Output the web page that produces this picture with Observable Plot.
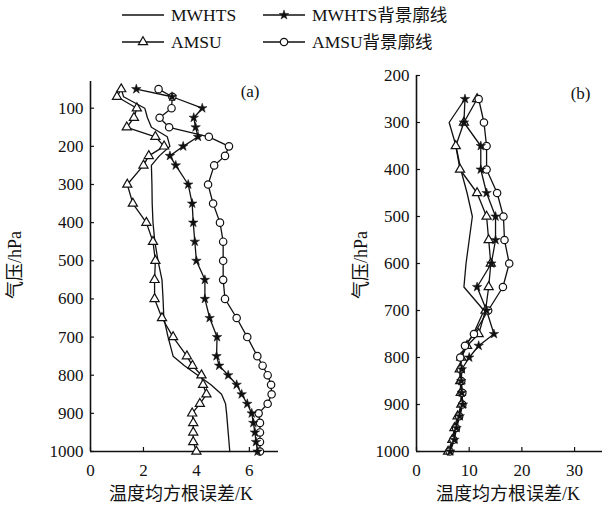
<!DOCTYPE html>
<html><head><meta charset="utf-8">
<script src="https://cdn.jsdelivr.net/npm/d3@7"></script>
<script src="https://cdn.jsdelivr.net/npm/@observablehq/plot@0.6"></script>
<style>
body{margin:0;background:#fff;}
#chart{position:relative;width:602px;height:506px;overflow:hidden;background:#fff;font-family:"Liberation Serif","Noto Sans CJK SC",serif;}
#chart svg{position:absolute;}
#chart svg text{font-family:"Liberation Serif","Noto Sans CJK SC",serif !important;}
</style></head><body><div id="chart"></div>
<script>
// ---- data ----
const seriesNames = ["MWHTS", "MWHTS背景廓线", "AMSU", "AMSU背景廓线"];
const levelsA = [50,70,100,125,150,175,200,225,250,300,350,400,450,500,550,600,650,700,750,775,800,825,850,875,900,925,950,975,1000];
const mwhtsA   = [1.16,1.25,2.05,2.15,2.3,2.9,3.0,2.6,2.3,2.32,2.33,2.36,2.43,2.55,2.7,2.74,2.77,2.93,3.12,3.55,4.05,4.55,4.95,5.1,5.14,5.17,5.2,5.23,5.26];
const mwhtsBgA = [1.73,3.08,4.22,3.9,3.97,4.06,3.5,3.0,3.22,3.69,3.84,3.88,3.94,4.0,4.32,4.32,4.5,4.78,4.76,4.86,5.2,5.52,5.71,5.92,6.09,6.15,6.21,6.25,6.31];
const amsuA    = [1.16,1.0,1.75,1.64,1.37,2.45,2.78,2.2,2.0,1.39,1.6,2.11,2.36,2.45,2.42,2.42,2.7,3.12,3.64,3.85,4.19,4.25,4.38,4.13,3.84,3.88,3.88,3.88,4.0];
const amsuBgA  = [2.57,3.09,3.06,2.61,2.97,4.47,5.23,5.08,4.67,4.44,4.63,4.89,5.01,5.01,5.01,5.08,5.52,5.92,6.3,6.5,6.69,6.82,6.84,6.69,6.35,6.4,6.4,6.4,6.4];

const levelsB = [250,300,350,400,450,500,550,600,650,700,750,775,800,825,850,875,900,925,950,975,1000];
const mwhtsB   = [9.2,6.2,7.5,8.4,9.6,10.6,10.0,9.4,9.0,12.8,10.8,9.3,8.6,8.3,8.4,8.5,8.6,8.0,7.4,7.0,6.2];
const mwhtsBgB = [9.2,9.0,12.2,12.2,13.3,15.0,15.0,14.2,11.5,13.3,14.7,11.8,10.0,8.6,8.5,8.6,8.8,8.2,7.6,7.2,6.4];
const amsuB    = [11.5,9.0,7.45,8.26,11.5,13.3,13.7,14.1,13.7,13.1,11.8,9.6,8.5,8.2,8.3,8.4,8.5,7.8,7.2,6.8,6.0];
const amsuBgB  = [11.8,12.8,13.3,13.3,15.3,16.5,16.7,17.6,16.4,13.6,10.9,9.2,8.3,8.4,8.5,8.7,8.7,8.1,7.5,7.0,6.3];

const xTicksA = [0,2,4,6];
const yTicksA = [100,200,300,400,500,600,700,800,900,1000];
const xTicksB = [0,10,20,30];
const yTicksB = [200,300,400,500,600,700,800,900,1000];
const xTitle = "温度均方根误差/K";
const yTitle = "气压/hPa";

// ---- build ----
const FONT = '"Liberation Serif","Noto Sans CJK SC",serif';
const INK = "#111";

function toRows(levels, arrays) {
  const rows = [];
  arrays.forEach((arr, i) => arr.forEach((v, j) => rows.push({s: seriesNames[i], p: levels[j], v})));
  return rows;
}

function panel(o) {
  const data = toRows(o.levels, o.series);
  const by = s => data.filter(d => d.s === s);
  const [x0, x1] = o.xDomain, [y0, y1] = o.yDomain;
  return Plot.plot({
    width: o.width, height: 470,
    marginLeft: o.marginLeft, marginRight: o.marginRight, marginTop: o.marginTop, marginBottom: 19,
    style: {fontFamily: FONT, fontSize: "17px", color: INK, background: "transparent", overflow: "visible"},
    x: {domain: o.xDomain, ticks: o.xTicks, label: null, tickSize: 0, tickPadding: 12, tickFormat: d => String(d)},
    y: {domain: o.yDomain, reverse: true, ticks: o.yTicks, label: null, tickSize: 0, tickPadding: 7, tickFormat: d => String(d)},
    marks: [
      Plot.ruleX([x0], {y1: y0, y2: y1, stroke: INK, strokeWidth: 1.6}),
      Plot.ruleY([y1], {x1: x0, x2: x1, stroke: INK, strokeWidth: 1.6}),
      Plot.ruleY(o.yTicks, {x1: x0, x2: o.tickX, stroke: INK, strokeWidth: 1.2}),
      Plot.ruleX(o.xTicks, {y1: y1, y2: y1 - o.tickY, stroke: INK, strokeWidth: 1.2}),
      Plot.line(data, {x: "v", y: "p", z: "s", stroke: INK, strokeWidth: 1.3}),
      Plot.dot(by("AMSU"), {x: "v", y: "p", symbol: "triangle", r: 3.4, stroke: INK, fill: "white", strokeWidth: 1.2}),
      Plot.dot(by("AMSU背景廓线"), {x: "v", y: "p", symbol: "circle", r: 3.7, stroke: INK, fill: "white", strokeWidth: 1.2}),
      Plot.dot(by("MWHTS背景廓线"), {x: "v", y: "p", symbol: "star", r: 3.0, fill: INK, stroke: INK, strokeWidth: 0.5}),
      Plot.text([o.label], {text: d => d, frameAnchor: "top-right", dx: o.labelDx, dy: o.labelDy, fontSize: 17, fill: INK})
    ]
  });
}

const chart = document.getElementById("chart");

const plotA = panel({
  levels: levelsA, series: [mwhtsA, mwhtsBgA, amsuA, amsuBgA],
  xDomain: [0, 7.1], yDomain: [30, 1000], xTicks: xTicksA, yTicks: yTicksA,
  width: 300, marginLeft: 90, marginRight: 22, marginTop: 81,
  tickX: 0.15, tickY: 10.5, label: "(a)", labelDx: -19, labelDy: 3
});
plotA.style.left = "0px"; plotA.style.top = "0px";
chart.appendChild(plotA);

const plotB = panel({
  levels: levelsB, series: [mwhtsB, mwhtsBgB, amsuB, amsuBgB],
  xDomain: [0, 35.3], yDomain: [200, 1000], xTicks: xTicksB, yTicks: yTicksB,
  width: 272, marginLeft: 86, marginRight: 0, marginTop: 75,
  tickX: 0.75, tickY: 8.5, label: "(b)", labelDx: -12, labelDy: 11
});
plotB.style.left = "330px"; plotB.style.top = "0px";
chart.appendChild(plotB);

// ---- legend and axis titles ----
const svg = d3.select(chart).append("svg")
  .attr("width", 602).attr("height", 506)
  .style("left", "0px").style("top", "0px").style("pointer-events", "none")
  .style("font-family", FONT).style("fill", INK);

const legendItems = [
  {name: seriesNames[0], col: 0, row: 0, sym: null},
  {name: seriesNames[1], col: 1, row: 0, sym: "star"},
  {name: seriesNames[2], col: 0, row: 1, sym: "triangle"},
  {name: seriesNames[3], col: 1, row: 1, sym: "circle"}
];
const colX = [122, 263], rowY = [15, 42], lineLen = 42;
const symType = {star: d3.symbolStar, triangle: d3.symbolTriangle, circle: d3.symbolCircle};
const symR = {star: 3.0, triangle: 3.4, circle: 3.7};
legendItems.forEach(it => {
  const x = colX[it.col], y = rowY[it.row];
  svg.append("line").attr("x1", x).attr("x2", x + lineLen).attr("y1", y).attr("y2", y)
    .attr("stroke", INK).attr("stroke-width", 1.4);
  if (it.sym) {
    const r = symR[it.sym];
    svg.append("path")
      .attr("d", d3.symbol(symType[it.sym], Math.PI * r * r)())
      .attr("transform", `translate(${x + lineLen / 2},${y})`)
      .attr("fill", it.sym === "star" ? INK : "white")
      .attr("stroke", INK).attr("stroke-width", it.sym === "star" ? 0.5 : 1.2);
  }
  svg.append("text").attr("x", x + lineLen + 7).attr("y", y).attr("dy", "0.35em")
    .attr("font-size", 17.5).text(it.name);
});

[[181, 494], [508, 494]].forEach(([x, y]) => {
  svg.append("text").attr("x", x).attr("y", y).attr("dy", "0.35em").attr("text-anchor", "middle")
    .attr("font-size", 18).text(xTitle);
});
[[15, 265], [361, 265]].forEach(([x, y]) => {
  svg.append("text").attr("transform", `translate(${x},${y}) rotate(-90)`).attr("dy", "0.35em")
    .attr("text-anchor", "middle").attr("font-size", 18).text(yTitle);
});
</script></body></html>
